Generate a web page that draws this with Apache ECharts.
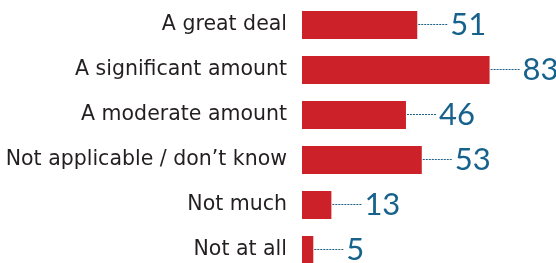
<!DOCTYPE html>
<html>
<head>
<meta charset="utf-8">
<script src="https://cdn.jsdelivr.net/npm/echarts@6/dist/echarts.min.js"></script>
<style>
  html, body { margin: 0; padding: 0; background: #fff; }
  #main { width: 556px; height: 263px; }
</style>
</head>
<body>
<div id="main"></div>
<script>
  // categories top to bottom
  var categories = ['A great deal', 'A significant amount', 'A moderate amount',
    'Not applicable / don\u2019t know', 'Not much', 'Not at all']
  var values = [51, 83, 46, 53, 13, 5]

  var chart = echarts.init(document.getElementById('main'))

  var leaderData = values.map(function (v, i) { return [v, i] })

  chart.setOption({
    animation: false,
    grid: {
      left: 302,
      width: 226,
      top: 25,
      height: 225
    },
    xAxis: {
      type: 'value',
      min: 0,
      max: 100,
      show: false
    },
    yAxis: {
      type: 'category',
      data: categories,
      inverse: true,
      boundaryGap: false,
      axisLine: { show: false },
      axisTick: { show: false },
      axisLabel: {
        margin: 15,
        fontFamily: 'DejaVu Sans',
        fontSize: 20.5,
        color: '#231f20'
      }
    },
    series: [{
      type: 'bar',
      data: values,
      barWidth: 28,
      itemStyle: { color: '#cc2129' },
      label: {
        show: true,
        position: 'right',
        distance: 33,
        fontFamily: 'Lato',
        fontSize: 31,
        color: '#17628c'
      }
    }, {
      // dotted leader line from bar end to value
      type: 'custom',
      data: leaderData,
      encode: { x: 0, y: 1 },
      renderItem: function (params, api) {
        var p = api.coord([api.value(0), api.value(1)])
        return {
          type: 'line',
          shape: { x1: p[0] + 1, y1: p[1] - 0.5, x2: p[0] + 30, y2: p[1] - 0.5 },
          style: { stroke: '#1d5f85', lineWidth: 1, lineDash: [2, 1] }
        }
      }
    }]
  })
</script>
</body>
</html>
